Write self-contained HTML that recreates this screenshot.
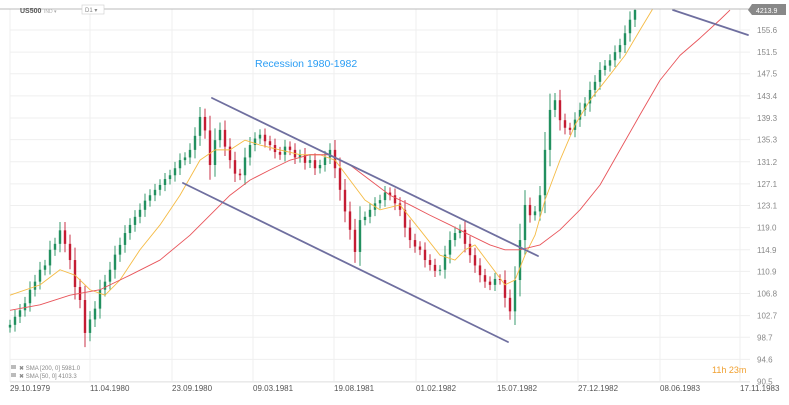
<!DOCTYPE html>
<html><head><meta charset="utf-8">
<style>
html,body{margin:0;padding:0;background:#fff;}
svg{display:block;font-family:"Liberation Sans",sans-serif;}
</style></head>
<body>
<svg id="chart" width="789" height="405" viewBox="0 0 789 405" xmlns="http://www.w3.org/2000/svg">
<g id="grid"></g>
<g id="candles"></g>
<g id="smas"></g>
<g stroke="#6f6f9f" stroke-width="1.8" stroke-linecap="round">
<line x1="212" y1="98" x2="538" y2="256"/>
<line x1="183" y1="183" x2="508" y2="342"/>
<line x1="673" y1="10" x2="748" y2="35"/>
</g>
<rect x="0" y="0" width="789" height="9" fill="#fff"/>
<line x1="0" y1="9" x2="750" y2="9" stroke="#bbb" stroke-width="1"/>
<text x="20" y="13" font-size="7" font-weight="bold" fill="#555">US500</text>
<text x="44" y="13" font-size="5" fill="#aaa">IND ▾</text>
<rect x="82" y="5" width="22" height="9" fill="#fff" stroke="#ccc" stroke-width="0.6"/>
<text x="85" y="12" font-size="6" fill="#888">D1 ▾</text>
<polygon points="752,4 786,4 786,15 752,15 748,10" fill="#888"/>
<text x="756" y="13" font-size="7" fill="#fff">4213.9</text>
<text x="255" y="67" font-size="10.5" fill="#2a9df4">Recession 1980-1982</text>
<text x="712" y="373" font-size="9" fill="#f0a030">11h 23m</text>
<g font-size="6" fill="#888">
<rect x="11" y="365" width="5" height="4" fill="#bbb"/><text x="19" y="370">✖ SMA [200, 0] 5981.0</text>
<rect x="11" y="373" width="5" height="4" fill="#bbb"/><text x="19" y="378">✖ SMA [50, 0] 4103.3</text>
</g>
<g id="axes"></g>
</svg>
<script>
const closes=[101,102.5,103.7,105,107.5,109,111.2,112,114.9,116,118.5,116,113,108,105.6,99.5,102,104,107.5,109,111.2,114,115.8,118,119.5,121,122.3,124,125,126,126.9,128,128.7,130,131.5,132,133.4,136,139.5,137,130.6,135.2,137.1,134,131.5,129,128.7,132,134.3,135.5,136.2,135,134.3,133,132.5,134,133.4,132,132.5,131,131.5,130,130.6,132,133.4,130,126,122,118.6,114.5,120.4,121,122.3,123.5,124.1,125.5,125,123.5,122.3,119,116.7,115.5,114.9,113,112.1,111,111.2,114,116.7,118,118.6,116,113.9,112,110.2,109,108.4,109.5,109.3,106,103.5,109.3,116.7,123.2,121.3,122,125,133.4,140.8,142.6,138.9,137.5,137.1,139,140.8,142,144.5,146,148.2,149,150,151.5,152.8,155,157.5,159.3];
const sma50Idx=[0,6,10,13,16,19,22,26,30,34,38,41,44,47,50,54,58,62,65,68,71,74,78,82,86,89,91,93,96,99,101,103,105,107,110,113,116,120,123,126,129];
const sma50Val=[106.5,108.4,111.2,110.2,107.5,106.5,109.3,114.9,119.5,125.0,131.5,133.4,133.4,135.2,134.3,133.4,132.5,132.5,131.5,127.8,124.1,122.3,123.2,118.6,113.9,113.0,114.9,115.8,112.1,108.4,109.3,113.9,117.6,124.1,131.5,138.0,142.6,147.3,150.9,155.6,160.2];
const sma200Idx=[0,6,12,18,24,30,36,40,44,48,52,56,60,64,68,72,76,80,84,88,92,96,99,102,106,110,114,118,122,126,130,134,138,142,144];
const sma200Val=[103.7,104.7,106.5,107.5,110.2,113.0,117.6,121.3,125.0,127.8,129.7,131.5,132.5,132.5,130.6,127.8,125.0,123.2,121.3,119.5,117.6,115.8,114.9,114.9,115.8,118.6,122.3,126.9,133.4,139.9,146.3,150.9,154.1,157.5,159.3];
const priceTicks=[155.6,151.5,147.5,143.4,139.3,135.3,131.2,127.1,123.1,119.0,114.9,110.9,106.8,102.7,98.7,94.6,90.5];
const dateLabels=["29.10.1979","11.04.1980","23.09.1980","09.03.1981","19.08.1981","01.02.1982","15.07.1982","27.12.1982","08.06.1983","17.11.1983"];
const dateIdx=[0,16,32.4,48.6,64.8,81.2,97.4,113.6,130,146];

const NS="http://www.w3.org/2000/svg";
const yS=p=>30+(155.6-p)*5.4;
const xS=i=>10+i*5;
function mk(tag,attrs,parent){const e=document.createElementNS(NS,tag);for(const k in attrs)e.setAttribute(k,attrs[k]);parent.appendChild(e);return e;}
const grid=document.getElementById('grid'),axes=document.getElementById('axes');
priceTicks.forEach(p=>{
  const y=yS(p);
  const l=mk('line',{x1:10,x2:750,y1:y,y2:y,stroke:'#efefef','stroke-width':1},grid);
  
  
  const t=mk('text',{x:757,y:y+3,'font-size':8,fill:'#888'},axes);
  t.textContent=p.toFixed(1);
  
  
});
dateLabels.forEach((d,k)=>{
  const x=xS(dateIdx[k]);
  const l=mk('line',{x1:x,x2:x,y1:9,y2:382,stroke:'#efefef','stroke-width':1},grid);
  
  
  const t=mk('text',{x:x,y:391,'font-size':8,fill:'#555'},axes);
  t.textContent=d;
  
  
});
mk('line',{x1:10,x2:750,y1:382,y2:382,stroke:'#e4e4e4'},grid);
const cg=document.getElementById('candles');
closes.forEach((c,i)=>{
  const o=i?closes[i-1]:c-0.5;
  const up=c>=o;
  const d=Math.abs(c-o);
  const hi=Math.max(o,c)+0.8+d*0.3, lo=Math.min(o,c)-0.8-d*0.3;
  const x=xS(i), col=up?'#22905f':'#c41c33';
  const g=mk('g',{},cg);
  
  
  mk('line',{x1:x,x2:x,y1:yS(hi),y2:yS(lo),stroke:col,'stroke-width':0.9},g);
  const yt=yS(Math.max(o,c));
  mk('rect',{x:x-1.2,y:yt,width:2.4,height:Math.max(1,yS(Math.min(o,c))-yt),fill:col},g);
});
const sg=document.getElementById('smas');
function path(idx,val,col,name){
  const p=mk('path',{d:idx.map((i,k)=>(k?'L':'M')+xS(i)+','+yS(val[k])).join(''),fill:'none',stroke:col,'stroke-width':0.9,'stroke-linejoin':'round'},sg);
  
  
}
path(sma50Idx,sma50Val,'#f5bb45','sma-50-line');
path(sma200Idx,sma200Val,'#e8545a','sma-200-line');
</script>
</body></html>
